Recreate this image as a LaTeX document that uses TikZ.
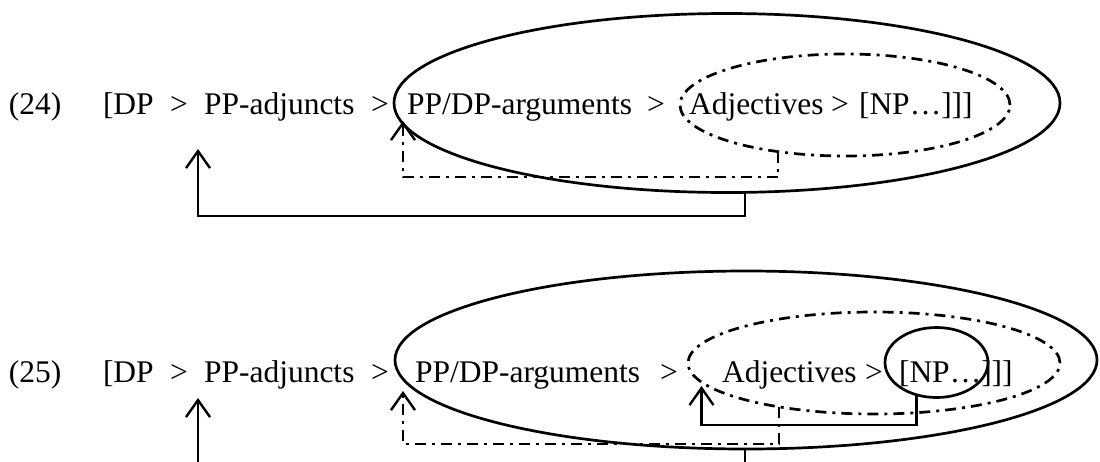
\documentclass[tikz,border=0pt]{standalone}
\usepackage{fontspec}
\setmainfont{Liberation Serif}
\usetikzlibrary{arrows.meta,shapes.geometric}
\begin{document}
\begin{tikzpicture}[x=1pt,y=-1pt,
  txt/.style={anchor=base west, inner sep=0pt, outer sep=0pt, font=\fontsize{31.5}{36}\selectfont},
  solidell/.style={draw, ellipse, line width=2.7pt, inner sep=0pt, outer sep=0pt},
  dashell/.style={solidell, dash pattern=on 11pt off 6pt on 3pt off 6pt},
  conn/.style={line width=2.4pt, -{Straight Barb[length=17pt,width=24pt,line width=2.4pt]}},
  dashconn/.style={conn, dash pattern=on 11pt off 6pt on 3pt off 6pt}]
\useasboundingbox (0,0) rectangle (1100,461);
\clip (0,0) rectangle (1100,461);

% ---------- (24) ----------
\node[txt] (n24)  at (9,114)   {(24)};
\node[txt] (a1)   at (103,114) {[DP};
\node[txt] (g1a)  at (170,114) {>};
\node[txt] (b1)   at (204,114) {PP-adjuncts};
\node[txt] (g1b)  at (371,114) {>};
\node[txt] (c1)   at (407,114) {PP/DP-arguments};
\node[txt] (g1c)  at (647,114) {>};
\node[txt] (d1)   at (689,114) {Adjectives};
\node[txt] (g1d)  at (831,114) {>};
\node[txt] (e1)   at (859,114) {[NP…]]]};

\node[solidell, minimum width=666pt, minimum height=179pt] (E1) at (727,103) {};
\node[dashell, minimum width=330pt, minimum height=102pt] (D1) at (845,105) {};

\coordinate (D1s) at (778,151.5);
\coordinate (D1k) at (778,177);
\coordinate (D1t) at (403,121);
\draw[dashconn] (D1s) -- (D1k) -| (D1t);

\coordinate (E1s) at (745,192);
\coordinate (E1k) at (745,216);
\coordinate (E1t) at (198,149);
\draw[conn] (E1s) -- (E1k) -| (E1t);

% ---------- (25) ----------
\node[txt] (n25)  at (9,382)   {(25)};
\node[txt] (a2)   at (103,382) {[DP};
\node[txt] (g2a)  at (170,382) {>};
\node[txt] (b2)   at (204,382) {PP-adjuncts};
\node[txt] (g2b)  at (371,382) {>};
\node[txt] (c2)   at (415,382) {PP/DP-arguments};
\node[txt] (g2c)  at (660,382) {>};
\node[txt] (d2)   at (722,382) {Adjectives};
\node[txt] (g2d)  at (865,382) {>};
\node[txt] (e2)   at (899,382) {[NP…]]]};

\node[solidell, minimum width=702pt, minimum height=178pt] (E2) at (746,360) {};
\node[dashell, minimum width=372pt, minimum height=102pt] (D2) at (874,363) {};
\node[solidell, minimum width=103pt, minimum height=70pt] (S2) at (936.5,362.5) {};

\coordinate (S2s) at (916.5,395);
\coordinate (S2k) at (916.5,425);
\coordinate (S2t) at (701.5,386);
\draw[conn] (S2s) -- (S2k) -| (S2t);

\coordinate (D2s) at (778.7,407);
\coordinate (D2k) at (778.7,444);
\coordinate (D2t) at (403,391);
\draw[dashconn] (D2s) -- (D2k) -| (D2t);

\coordinate (E2s) at (745,449);
\coordinate (E2k) at (745,480);
\coordinate (E2t) at (198,398);
\draw[conn] (E2s) -- (E2k) -| (E2t);
\end{tikzpicture}
\end{document}
